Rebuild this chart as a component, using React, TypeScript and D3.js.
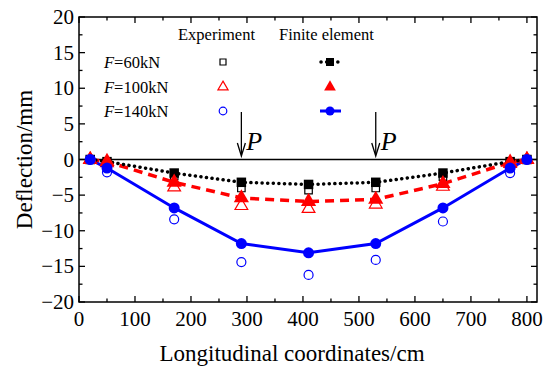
import React, { useEffect, useRef } from 'react';
import * as d3 from 'd3';

// positions along the beam (cm)
const positions = [20, 50, 170, 290, 410, 530, 650, 770, 800];

// finite element results (mm)
const fe60 = [0, -0.3, -1.9, -3.2, -3.5, -3.2, -1.9, -0.3, 0];
const fe100 = [0, -0.3, -3.2, -5.4, -5.9, -5.6, -3.4, -0.4, 0];
const fe140 = [0, -1.2, -6.8, -11.8, -13.1, -11.8, -6.8, -1.2, 0];

// experiment results (mm)
const exp60 = [0, -0.5, -2.3, -4.0, -4.3, -4.0, -2.4, -0.4, 0];
const exp100 = [0, -0.5, -3.9, -6.5, -6.9, -6.3, -3.8, -0.6, 0];
const exp140 = [0, -1.8, -8.4, -14.4, -16.2, -14.1, -8.7, -1.9, 0];

const loads = ['60', '100', '140'];
const loadPoints = [290, 530];

const xTicks = [0, 100, 200, 300, 400, 500, 600, 700, 800];
const yTicks = [-20, -15, -10, -5, 0, 5, 10, 15, 20];

const W = 550;
const H = 375;
const FONT = '"Liberation Serif", "Times New Roman", serif';

export default function App() {
  const svgRef = useRef<SVGSVGElement>(null);

  useEffect(() => {
    if (!svgRef.current) return;
    const svg = d3.select(svgRef.current);
    svg.selectAll('*').remove();

    const margin = { top: 17, right: 13, bottom: 73, left: 79 };
    const iw = W - margin.left - margin.right;
    const ih = H - margin.top - margin.bottom;

    const x = d3.scaleLinear().domain([0, 818]).range([0, iw]);
    const y = d3.scaleLinear().domain([-20, 20]).range([ih, 0]);

    const g = svg.append('g').attr('transform', `translate(${margin.left},${margin.top})`);

    // zero line
    g.append('line')
      .attr('x1', 0).attr('x2', iw)
      .attr('y1', y(0)).attr('y2', y(0))
      .attr('stroke', '#000').attr('stroke-width', 1.5);

    // frame
    g.append('rect')
      .attr('width', iw).attr('height', ih)
      .attr('fill', 'none').attr('stroke', '#000').attr('stroke-width', 1.5);

    // ticks (inward, with minor ticks)
    const xMinor = d3.range(50, 818, 100);
    const yMinor = d3.range(-17.5, 20, 5);
    const tick = (x1: number, y1: number, x2: number, y2: number) =>
      g.append('line').attr('x1', x1).attr('y1', y1).attr('x2', x2).attr('y2', y2)
        .attr('stroke', '#000').attr('stroke-width', 1.3);
    xTicks.forEach(t => { tick(x(t), ih, x(t), ih - 6); tick(x(t), 0, x(t), 6); });
    xMinor.forEach(t => { tick(x(t), ih, x(t), ih - 3.5); tick(x(t), 0, x(t), 3.5); });
    yTicks.forEach(t => { tick(0, y(t), 6, y(t)); tick(iw, y(t), iw - 6, y(t)); });
    yMinor.forEach(t => { tick(0, y(t), 3.5, y(t)); tick(iw, y(t), iw - 3.5, y(t)); });

    // tick labels
    g.selectAll('.xl').data(xTicks).enter().append('text')
      .attr('x', d => x(d)).attr('y', ih + 24)
      .attr('text-anchor', 'middle')
      .style('font-family', FONT).style('font-size', '21px')
      .text(d => String(d));
    g.selectAll('.yl').data(yTicks).enter().append('text')
      .attr('x', -5).attr('y', d => y(d) + 7)
      .attr('text-anchor', 'end')
      .style('font-family', FONT).style('font-size', '21px')
      .text(d => (d < 0 ? '\u2212' + Math.abs(d) : String(d)));

    // axis titles
    svg.append('text')
      .attr('x', 292).attr('y', 361)
      .attr('text-anchor', 'middle')
      .style('font-family', FONT).style('font-size', '23px')
      .text('Longitudinal coordinates/cm');
    svg.append('text')
      .attr('transform', `translate(32,${margin.top + y(0)}) rotate(-90)`)
      .attr('text-anchor', 'middle')
      .style('font-family', FONT).style('font-size', '23px')
      .text('Deflection/mm');

    // load arrows
    loadPoints.forEach(p => {
      g.append('line')
        .attr('x1', x(p)).attr('x2', x(p))
        .attr('y1', 95).attr('y2', 137)
        .attr('stroke', '#000').attr('stroke-width', 1.3);
      g.append('path')
        .attr('d', `M${x(p) - 4},${126} L${x(p)},${139} L${x(p) + 4},${126}`)
        .attr('fill', 'none').attr('stroke', '#000').attr('stroke-width', 1.3);
      g.append('text')
        .attr('x', x(p) + 5).attr('y', 133)
        .style('font-family', FONT).style('font-size', '26px').style('font-style', 'italic')
        .text('P');
    });

    const line = d3.line<number>().x((_, i) => x(positions[i])).y(d => y(d));

    const sq = d3.symbol().type(d3.symbolSquare);
    const tri = d3.symbol().type(d3.symbolTriangle);

    // experiment markers
    const openMarks = (vals: number[], kind: string, color: string) => {
      vals.forEach((v, i) => {
        const cx = x(positions[i]);
        const cy = y(v);
        if (kind === 'circle') {
          g.append('circle').attr('cx', cx).attr('cy', cy).attr('r', 4.5)
            .attr('fill', 'none').attr('stroke', color).attr('stroke-width', 1.2);
        } else {
          g.append('path')
            .attr('d', (kind === 'square' ? sq.size(56) : tri.size(70))())
            .attr('transform', `translate(${cx},${cy})`)
            .attr('fill', 'none').attr('stroke', color).attr('stroke-width', 1.2);
        }
      });
    };
    openMarks(exp60, 'square', '#000');
    openMarks(exp100, 'triangle', '#ff0000');
    openMarks(exp140, 'circle', '#0000ff');

    // finite element lines
    const feSeries = [
      { vals: fe140, color: '#0000ff', dash: null, kind: 'circle', width: 3 },
      { vals: fe100, color: '#ff0000', dash: '9,6', kind: 'triangle', width: 3.5 },
      { vals: fe60, color: '#000', dash: '0.1,5.5', kind: 'square', width: 3.5 },
    ];
    feSeries.forEach(s => {
      const p = g.append('path').attr('d', line(s.vals))
        .attr('fill', 'none').attr('stroke', s.color).attr('stroke-width', s.width)
        .attr('stroke-linecap', s.kind === 'square' ? 'round' : 'butt');
      if (s.dash) p.attr('stroke-dasharray', s.dash);
    });
    [...feSeries].reverse().forEach(s => {
      s.vals.forEach((v, i) => {
        const cx = x(positions[i]);
        const cy = y(v);
        if (s.kind === 'circle') {
          g.append('circle').attr('cx', cx).attr('cy', cy).attr('r', 5.5).attr('fill', s.color);
        } else {
          g.append('path')
            .attr('d', (s.kind === 'square' ? sq.size(90) : tri.size(100))())
            .attr('transform', `translate(${cx},${cy})`)
            .attr('fill', s.color);
        }
      });
    });

    // legend
    const lg = svg.append('g');
    lg.append('text').attr('x', 178).attr('y', 40)
      .style('font-family', FONT).style('font-size', '16.5px').text('Experiment');
    lg.append('text').attr('x', 279).attr('y', 40)
      .style('font-family', FONT).style('font-size', '16.5px').text('Finite element');
    const rows = [62, 87, 111];
    const colors = ['#000', '#ff0000', '#0000ff'];
    loads.forEach((f, i) => {
      const t = lg.append('text').attr('x', 104).attr('y', rows[i] + 6)
        .style('font-family', FONT).style('font-size', '16.5px');
      t.append('tspan').style('font-style', 'italic').text('F');
      t.append('tspan').text(`=${f}kN`);
    });
    // experiment legend symbols
    lg.append('path').attr('d', sq.size(36)()).attr('transform', `translate(223,${rows[0]})`)
      .attr('fill', 'none').attr('stroke', '#000').attr('stroke-width', 1.2);
    lg.append('path').attr('d', tri.size(45)()).attr('transform', `translate(223,${rows[1]})`)
      .attr('fill', 'none').attr('stroke', '#ff0000').attr('stroke-width', 1.2);
    lg.append('circle').attr('cx', 223).attr('cy', rows[2]).attr('r', 3.8)
      .attr('fill', 'none').attr('stroke', '#0000ff').attr('stroke-width', 1.2);
    // finite element legend symbols
    lg.append('line').attr('x1', 321).attr('x2', 340).attr('y1', rows[0]).attr('y2', rows[0])
      .attr('stroke', '#000').attr('stroke-width', 3.5).attr('stroke-linecap', 'round')
      .attr('stroke-dasharray', '0.1,5.5');
    lg.append('path').attr('d', sq.size(64)()).attr('transform', `translate(330,${rows[0]})`).attr('fill', '#000');
    lg.append('path').attr('d', tri.size(60)()).attr('transform', `translate(330,${rows[1]})`).attr('fill', '#ff0000');
    lg.append('line').attr('x1', 320).attr('x2', 341).attr('y1', rows[2]).attr('y2', rows[2])
      .attr('stroke', '#0000ff').attr('stroke-width', 3);
    lg.append('circle').attr('cx', 330).attr('cy', rows[2]).attr('r', 4.5).attr('fill', colors[2]);
  }, []);

  return (
    <div style={{ position: 'absolute', left: 0, top: 0 }}>
      <svg ref={svgRef} width={W} height={H} style={{ display: 'block', background: '#fff' }} />
    </div>
  );
}
